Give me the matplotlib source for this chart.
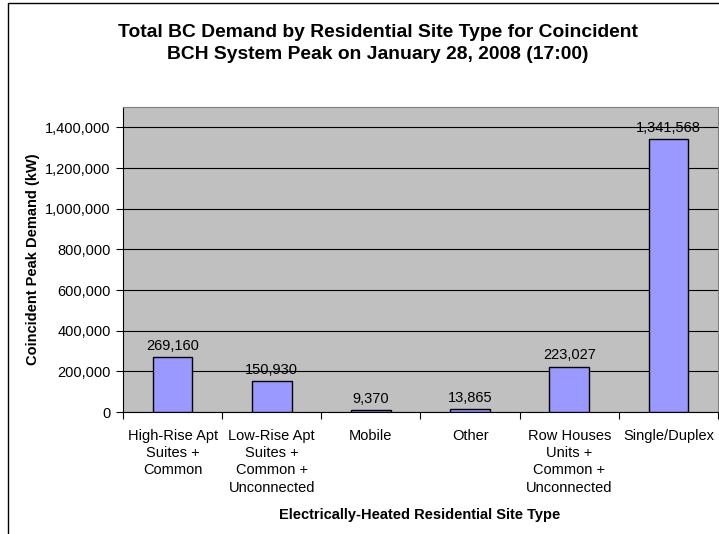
import matplotlib
matplotlib.use("Agg")
import matplotlib.pyplot as plt
from matplotlib.lines import Line2D
import numpy as np

plt.rcParams['font.family'] = ['Liberation Sans', 'DejaVu Sans']

# data
categories = ['High-Rise Apt\nSuites +\nCommon',
              'Low-Rise Apt\nSuites +\nCommon +\nUnconnected',
              'Mobile',
              'Other',
              'Row Houses\nUnits +\nCommon +\nUnconnected',
              'Single/Duplex']
demand_kw = [269160, 150930, 9370, 13865, 223027, 1341568]
y_ticks = [0, 200000, 400000, 600000, 800000, 1000000, 1200000, 1400000]

W, H = 719, 534
fig = plt.figure(figsize=(W / 100, H / 100), dpi=100)
fig.patch.set_facecolor('white')

# plot area in pixels: left 123, right 718, top 107, bottom 412
ax = fig.add_axes([123 / W, 1 - 412 / H, (718 - 123) / W, (412 - 107) / H])
ax.set_facecolor('#C0C0C0')

fs = 10.5
x = np.arange(len(categories))
ax.bar(x, demand_kw, width=0.4, color='#9999FF', edgecolor='black', linewidth=1, zorder=3)

for xi, v in zip(x, demand_kw):
    ax.annotate(f'{v:,}', (xi, v), xytext=(0, 3), textcoords='offset points',
                ha='center', va='bottom', fontsize=fs, zorder=4)

ax.set_xlim(-0.5, len(categories) - 0.5)
ax.set_ylim(0, 1500000)
ax.set_yticks(y_ticks)
ax.set_yticklabels([f'{t:,}' for t in y_ticks], fontsize=fs)
ax.yaxis.grid(True, color='black', linewidth=0.8, zorder=1)
ax.set_axisbelow(True)

# category ticks at boundaries, labels at centers
ax.set_xticks(np.arange(len(categories) + 1) - 0.5)
ax.set_xticklabels([])
ax.set_xticks(x, minor=True)
ax.set_xticklabels(categories, minor=True, fontsize=fs, linespacing=1.3)
ax.tick_params(axis='x', which='minor', length=0, pad=12)
ax.tick_params(axis='x', which='major', length=5, direction='out')
ax.tick_params(axis='y', length=5, direction='out', pad=4)

for side in ['top', 'right']:
    ax.spines[side].set_color('#808080')
    ax.spines[side].set_linewidth(0.8)
for side in ['left', 'bottom']:
    ax.spines[side].set_color('black')
    ax.spines[side].set_linewidth(0.8)

ax.set_ylabel('Coincident Peak Demand (kW)', fontsize=fs, fontweight='bold')
ax.yaxis.set_label_coords((33 - 123) / 595, 0.5)
ax.yaxis.label.set_va('center')
ax.set_xlabel('Electrically-Heated Residential Site Type', fontsize=fs, fontweight='bold')
ax.xaxis.set_label_coords((420 - 123) / 595, (412 - 515) / 305)
ax.xaxis.label.set_va('center')

fig.text(378 / W, 1 - 43.5 / H,
         'Total BC Demand by Residential Site Type for Coincident\nBCH System Peak on January 28, 2008 (17:00)',
         ha='center', va='center', fontsize=13.9, fontweight='bold', linespacing=1.45)

# chart border (cropped on right and bottom)
fig.add_artist(Line2D([8 / W, 8 / W, 1.0], [0.0, 1 - 3 / H, 1 - 3 / H],
                      transform=fig.transFigure, color='black', linewidth=1))

fig.savefig('out.png', dpi=100)
